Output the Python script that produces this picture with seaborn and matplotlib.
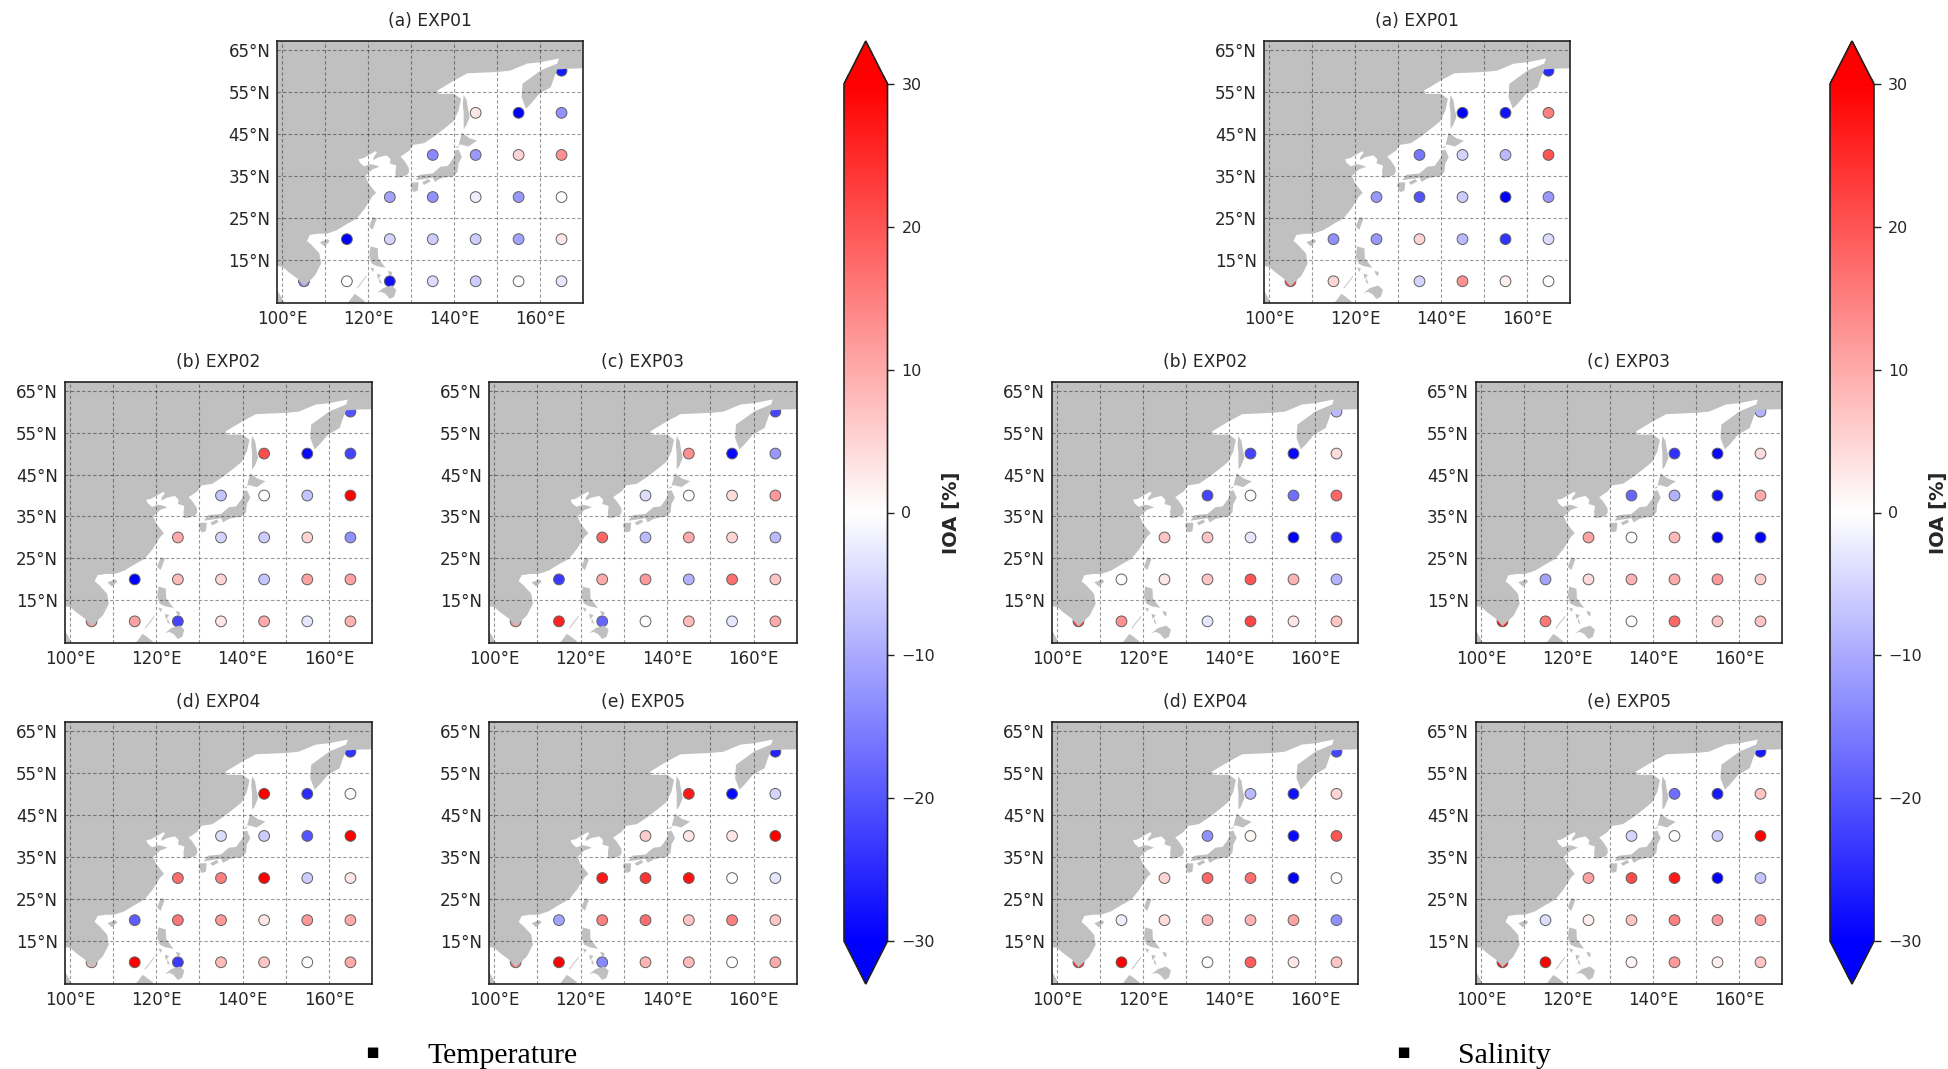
import numpy as np
import pandas as pd
import seaborn as sns
import matplotlib
import matplotlib.pyplot as plt
from matplotlib.patches import Polygon
from matplotlib.cm import ScalarMappable
from matplotlib.colors import Normalize

# station positions, same in every panel
station_lon = [165,
               145, 155, 165,
               135, 145, 155, 165,
               125, 135, 145, 155, 165,
               115, 125, 135, 145, 155, 165,
               105, 115, 125, 135, 145, 155, 165]
station_lat = [60,
               50, 50, 50,
               40, 40, 40, 40,
               30, 30, 30, 30, 30,
               20, 20, 20, 20, 20, 20,
               10, 10, 10, 10, 10, 10, 10]

# IOA [%] temperature
temp_exp01 = [-27, 3, -30, -13, -14, -12, 5, 13, -11, -13, -2, -12, 0, -30, -5, -6, -6, -11, 3, -15, 0, -28, -4, -6, 0, -3]
temp_exp02 = [-20, 21, -29, -22, -7, 0, -7, 30, 10, -5, -6, 5, -13, -30, 8, 5, -7, 11, 11, 13, 11, -22, 3, 10, -3, 9]
temp_exp03 = [-22, 13, -29, -12, -4, 0, 4, 12, 18, -8, 10, 5, -8, -23, 10, 12, -9, 17, 7, 12, 26, -18, 0, 8, -3, 10]
temp_exp04 = [-24, 30, -25, 0, -4, -6, -20, 30, 17, 15, 30, -6, 3, -19, 16, 12, 3, 12, 10, 8, 30, -23, 8, 7, 0, 10]
temp_exp05 = [-26, 27, -29, -5, 6, 3, 3, 30, 27, 24, 28, 0, -3, -11, 15, 17, 7, 15, 7, 17, 30, -14, 9, 8, 0, 10]

# IOA [%] salinity, no value at 125E 10N
sal_exp01 = [-25, -30, -28, 15, -16, -5, -8, 20, -12, -20, -6, -30, -12, -13, -12, 5, -8, -24, -4, 20, 5, np.nan, -5, 13, 2, 0]
sal_exp02 = [-8, -22, -29, 4, -22, 0, -17, 18, 7, 7, -3, -30, -25, 0, 3, 7, 20, 9, -9, 22, 13, np.nan, -3, 22, 3, 7]
sal_exp03 = [-9, -24, -29, 4, -18, -9, -28, 10, 11, 0, 8, -30, -30, -11, 4, 9, 10, 12, 6, 28, 16, np.nan, 0, 18, 7, 7]
sal_exp04 = [-22, -8, -28, 5, -13, 1, -29, 20, 5, 18, 17, -30, 0, -2, 4, 9, 9, 11, -13, 24, 30, np.nan, 0, 19, 3, 7]
sal_exp05 = [-27, -17, -27, 7, -5, 0, -6, 30, 11, 21, 27, -30, -7, -4, 2, 7, 15, 12, 12, 28, 30, np.nan, 1, 12, 2, 7]

panel_titles = ['(a) EXP01', '(b) EXP02', '(c) EXP03', '(d) EXP04', '(e) EXP05']
lat_ticks = [15, 25, 35, 45, 55, 65]
lon_ticks = [100, 120, 140, 160]
cbar_ticks = [-30, -20, -10, 0, 10, 20, 30]

# land outline in lon, lat
mainland = [(98.8, 13.6), (100.1, 13.4), (101.4, 12.2), (103.5, 10.6), (105.0, 8.8), (106.0, 9.8),
            (107.6, 11.4), (109.0, 14.2), (108.6, 16.6), (106.8, 18.6), (105.7, 19.6), (106.4, 21.0),
            (108.4, 21.3), (110.3, 21.3), (112.6, 22.1), (115.0, 23.6), (117.3, 24.9), (119.2, 27.3),
            (120.9, 30.1), (121.8, 31.0), (120.0, 33.3), (119.3, 35.0), (120.3, 36.0), (121.0, 36.6),
            (122.6, 37.2), (121.5, 37.6), (120.5, 37.8), (119.0, 37.3), (118.0, 38.2), (117.7, 39.0),
            (118.8, 39.2), (120.5, 40.2), (121.7, 40.9), (122.0, 40.5), (121.2, 39.5), (121.2, 38.8),
            (122.5, 39.5), (124.3, 39.9), (125.2, 39.0), (125.0, 38.0), (126.5, 37.5), (126.3, 36.0),
            (126.4, 34.6), (127.5, 34.7), (129.0, 35.2), (129.5, 36.0), (129.4, 37.0), (128.4, 38.6),
            (127.5, 39.6), (129.5, 41.0), (130.5, 42.4), (133.0, 42.8), (135.5, 44.5), (138.0, 46.5),
            (139.8, 48.0), (141.0, 50.5), (141.6, 53.3), (140.0, 54.5), (136.4, 54.5), (136.1, 55.3),
            (140.0, 57.7), (143.1, 59.4), (150.0, 59.7), (153.0, 60.0), (157.0, 61.7), (160.0, 62.0),
            (164.4, 62.9), (164.0, 61.7), (160.2, 60.1), (155.9, 56.9), (155.7, 53.7), (156.7, 51.0),
            (157.8, 52.1), (159.8, 54.5), (162.5, 56.1), (163.3, 58.5), (164.0, 60.3), (167.0, 60.5),
            (171.0, 60.6), (171.0, 68.0), (98.0, 68.0), (98.0, 13.6)]
sakhalin = [(142.2, 54.2), (142.9, 53.0), (143.2, 51.0), (143.6, 49.0), (142.8, 47.0), (142.2, 46.2),
            (142.2, 48.0), (142.2, 50.0), (142.0, 52.0)]
hokkaido = [(140.0, 41.6), (141.0, 41.8), (141.2, 43.0), (141.8, 45.3), (143.5, 44.0), (145.3, 43.4),
            (143.3, 42.0), (141.5, 42.5)]
honshu = [(141.0, 41.3), (141.8, 39.5), (141.0, 38.0), (140.8, 36.0), (139.8, 35.0), (138.0, 34.7),
          (136.8, 34.4), (135.5, 33.6), (135.0, 34.6), (132.5, 34.2), (131.0, 34.0), (132.0, 35.3),
          (135.0, 35.6), (136.8, 37.2), (138.5, 37.4), (140.0, 39.5), (140.2, 41.0)]
shikoku = [(132.5, 33.5), (134.0, 34.3), (134.5, 33.7), (133.0, 32.9)]
kyushu = [(130.0, 33.5), (131.7, 33.5), (131.5, 31.5), (130.5, 31.2), (129.8, 32.7)]
taiwan = [(121.0, 25.2), (122.0, 25.0), (121.0, 22.2), (120.2, 23.0)]
hainan = [(108.7, 19.3), (110.5, 20.0), (111.0, 19.5), (109.7, 18.3)]
luzon = [(120.5, 18.3), (122.2, 17.8), (122.3, 15.5), (124.0, 13.2), (122.0, 13.6), (120.8, 14.2), (120.2, 16.0)]
mindoro = [(120.5, 13.3), (121.4, 13.0), (121.0, 12.2)]
panay = [(122.0, 11.8), (123.0, 11.5), (122.2, 10.5)]
negros = [(122.6, 10.8), (123.2, 9.3), (122.5, 9.8)]
samar = [(124.5, 12.5), (125.5, 12.2), (125.4, 11.2), (124.9, 11.5)]
mindanao = [(122.0, 7.2), (123.5, 8.4), (125.4, 9.0), (126.5, 8.0), (126.0, 6.3), (125.0, 5.8), (124.0, 7.0), (123.0, 7.5)]
palawan = [(117.3, 8.4), (119.5, 11.3), (119.6, 11.1), (117.5, 8.3)]
borneo = [(112.5, 3.5), (115.5, 5.2), (116.8, 7.0), (117.6, 6.5), (119.2, 5.2), (118.0, 3.5)]
malay = [(98.0, 9.0), (98.8, 7.9), (100.6, 4.6), (98.0, 4.6)]
land_parts = [mainland, sakhalin, hokkaido, honshu, shikoku, kyushu, taiwan, hainan, luzon, mindoro,
              panay, negros, samar, mindanao, palawan, borneo, malay]

sns.set_style('white')
matplotlib.rcParams['font.family'] = 'DejaVu Sans'
matplotlib.rcParams['font.size'] = 11

W, H = 1949, 1069
fig = plt.figure(figsize=(W / 100, H / 100), dpi=100)
norm = Normalize(-30, 30)


def px_axes(x0, y0, x1, y1):
    # pixel box from the top left corner
    return fig.add_axes([x0 / W, 1 - y1 / H, (x1 - x0) / W, (y1 - y0) / H])


def draw_panel(box, values, title):
    ax = px_axes(*box)
    df = pd.DataFrame({'lon': station_lon, 'lat': station_lat, 'ioa': values}).dropna()
    sns.scatterplot(data=df, x='lon', y='lat', hue='ioa', palette='bwr', hue_norm=(-30, 30),
                    s=60, edgecolor='#606060', linewidth=0.7, legend=False, ax=ax, zorder=2)
    for part in land_parts:
        ax.add_patch(Polygon(part, closed=True, facecolor='#c0c0c0', edgecolor='none', zorder=3))
    ax.set_xlim(98.84, 170)
    ax.set_ylim(4.84, 67.06)
    for lon in range(100, 170, 10):
        ax.axvline(lon, color='black', alpha=0.4, lw=0.8, ls=(0, (3, 2)), zorder=4)
    for lat in lat_ticks:
        ax.axhline(lat, color='black', alpha=0.4, lw=0.8, ls=(0, (3, 2)), zorder=4)
    ax.set_xticks(lon_ticks)
    ax.set_xticklabels([f'{v}°E' for v in lon_ticks])
    ax.set_yticks(lat_ticks)
    ax.set_yticklabels([f'{v}°N' for v in lat_ticks])
    ax.tick_params(length=0, labelsize=12, pad=5)
    ax.set_xlabel('')
    ax.set_ylabel('')
    ax.set_title(title, fontsize=12.3, pad=11)
    for s in ax.spines.values():
        s.set_visible(True)
        s.set_color('#222222')
        s.set_linewidth(1.2)
        s.set_zorder(5)


def draw_colorbar(box):
    cax = px_axes(*box)
    cb = fig.colorbar(ScalarMappable(norm=norm, cmap='bwr'), cax=cax, extend='both', ticks=cbar_ticks)
    cb.ax.tick_params(length=5, width=1, labelsize=11.5, color='#222222', pad=5, right=True)
    cb.outline.set_edgecolor('#222222')
    cb.outline.set_linewidth(1.2)
    cb.set_label('IOA [%]', fontsize=14, fontweight='bold', labelpad=5)


temp_sets = [temp_exp01, temp_exp02, temp_exp03, temp_exp04, temp_exp05]
sal_sets = [sal_exp01, sal_exp02, sal_exp03, sal_exp04, sal_exp05]

temp_boxes = [(277.5, 41, 583, 303), (65, 382, 372, 643), (489, 382, 797, 643), (65, 722, 372, 984), (489, 722, 797, 984)]
sal_boxes = [(1264, 41, 1570, 303), (1052, 382, 1358, 643), (1476, 382, 1782, 643), (1052, 722, 1358, 984), (1476, 722, 1782, 984)]

for box, vals, t in zip(temp_boxes, temp_sets, panel_titles):
    draw_panel(box, vals, t)
for box, vals, t in zip(sal_boxes, sal_sets, panel_titles):
    draw_panel(box, vals, t)

draw_colorbar((844, 41, 887.5, 984))
draw_colorbar((1830, 41, 1874, 984))

# captions under the two groups
for x_mark, x_text, label in [(372, 427, 'Temperature'), (1403, 1458, 'Salinity')]:
    fig.text(x_mark / W, 1 - 1058 / H, '\u25aa', fontsize=15, color='black', family='DejaVu Sans', ha='center', va='baseline')
    fig.text(x_text / W, 1 - 1063 / H, label, fontsize=21.5, color='black', family='Liberation Serif', ha='left', va='baseline')

fig.savefig('out.png', dpi=100, facecolor='white')
